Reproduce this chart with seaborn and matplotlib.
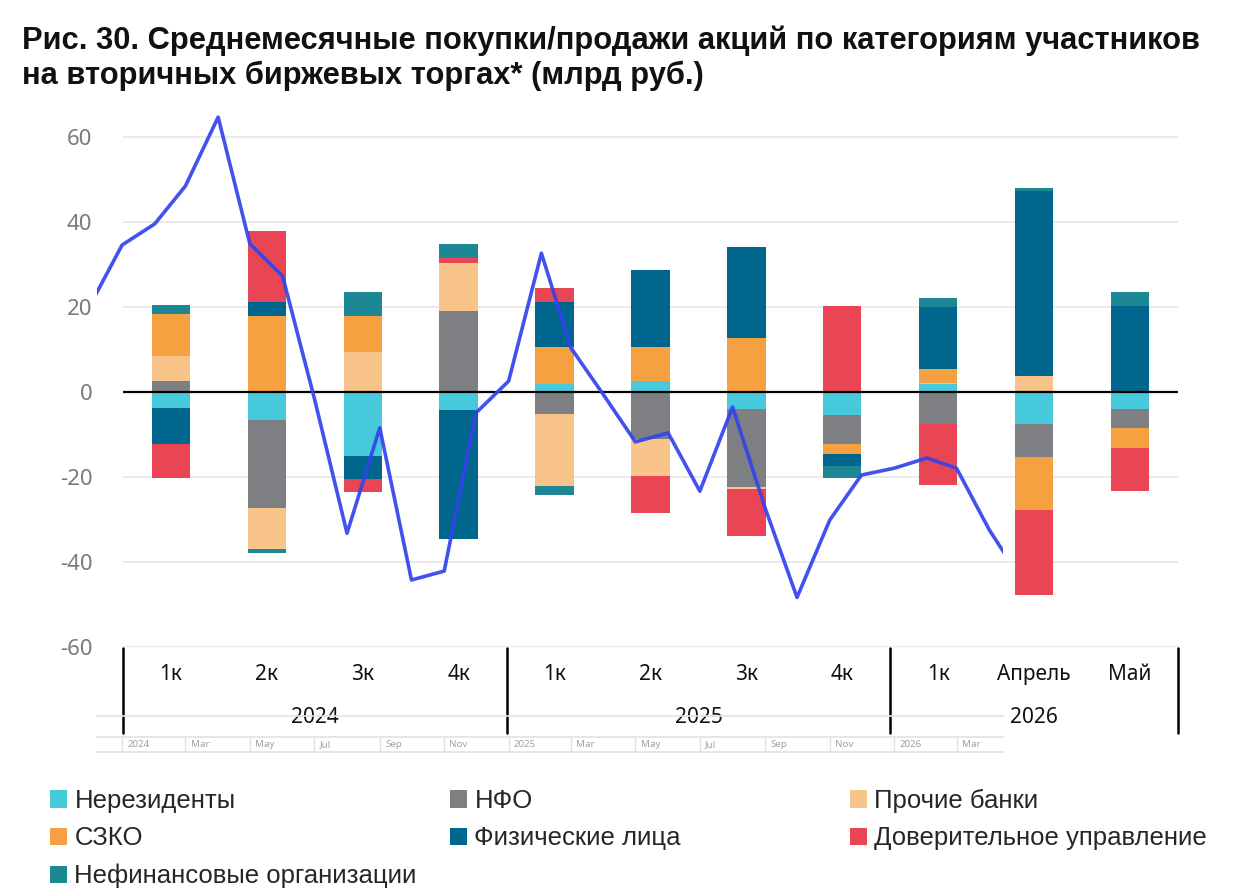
import numpy as np
import pandas as pd
import matplotlib
matplotlib.use("Agg")
import matplotlib.pyplot as plt
import matplotlib.transforms as mtransforms
from matplotlib.patches import Patch
import seaborn as sns

# ---------------- data ----------------
categories = ["1к", "2к", "3к", "4к", "1к", "2к", "3к", "4к", "1к", "Апрель", "Май"]
years = ["2024", "2025", "2026"]
year_sizes = [4, 4, 3]

series_names = ["Нерезиденты", "НФО", "Прочие банки", "СЗКО",
                "Физические лица", "Доверительное управление", "Нефинансовые организации"]
nonresidents = [-3.8, -6.6, -15.1, -4.3, 1.8, 2.5, -4.0, -5.6, 1.8, -7.7, -4.1]
nfo = [2.5, -20.7, 0.0, 19.0, -5.3, -11.2, -18.5, -6.7, -7.7, -7.7, -4.5]
other_banks = [5.9, -9.6, 9.3, 11.2, -16.9, -8.6, -0.3, 0.0, 0.3, 3.7, 0.0]
szko = [9.8, 17.8, 8.6, 0.0, 8.6, 7.9, 12.6, -2.4, 3.2, -12.4, -4.6]
individuals = [-8.5, 3.4, -5.4, -30.3, 10.6, 18.2, 21.5, -2.8, 14.6, 43.6, 20.2]
trust_mgmt = [-8.0, 16.7, -3.0, 1.3, 3.3, -8.8, -11.2, 20.2, -14.3, -20.0, -10.2]
nonfin = [2.2, -1.0, 5.6, 3.2, -2.1, 0.0, 0.0, -2.7, 2.1, 0.6, 3.2]

series_values = [nonresidents, nfo, other_banks, szko, individuals, trust_mgmt, nonfin]
series_colors = ["#47C9DC", "#7E7F83", "#F9C489", "#F5A142", "#00668E", "#E94554", "#1D8795"]

# monthly line (Dec 2023 .. May 2026)
line_months = pd.date_range("2023-12-01", "2026-05-01", freq="MS")
line_values = [20.0, 34.5, 39.5, 48.4, 64.6, 34.8, 27.2, -1.5, -33.3, -8.5, -44.3, -42.2, -5.0,
               2.5, 32.6, 10.3, -0.8, -11.8, -9.7, -23.4, -3.6, -27.5, -48.4, -30.2, -19.6,
               -18.0, -15.6, -18.0, -32.5, -44.0]
date_tick_labels = ["2024", "Mar", "May", "Jul", "Sep", "Nov",
                    "2025", "Mar", "May", "Jul", "Sep", "Nov", "2026", "Mar"]

# ---------------- style ----------------
sns.set_theme(style="white")
plt.rcParams["font.family"] = ["Noto Sans", "DejaVu Sans"]

W, H = 1248, 896
fig = plt.figure(figsize=(W / 100, H / 100), dpi=100)
fig.patch.set_facecolor("white")

def rect(x0, y0, x1, y1):
    return [x0 / W, 1 - y1 / H, (x1 - x0) / W, (y1 - y0) / H]

# ---------------- main bar axes ----------------
ax = fig.add_axes(rect(123, 102.7, 1178, 646.7))
ax.set_facecolor("none")
ax.set_xlim(-0.5, len(categories) - 0.5)
ax.set_ylim(-60, 68)
ax.set_yticks([-60, -40, -20, 0, 20, 40, 60])
ax.set_yticklabels([str(v) for v in [-60, -40, -20, 0, 20, 40, 60]])
ax.tick_params(axis="y", length=0, pad=22, labelsize=16, labelcolor="#7a7a7a")
ax.set_xticks([])
for s in ax.spines.values():
    s.set_visible(False)
ax.grid(axis="y", color="#e6e6e6", linewidth=1.2)
ax.set_axisbelow(True)

x = np.arange(len(categories))
pos_bottom = np.zeros(len(categories))
neg_bottom = np.zeros(len(categories))
for name, vals, col in zip(series_names, series_values, series_colors):
    v = np.array(vals, dtype=float)
    pos = np.where(v > 0, v, 0.0)
    neg = np.where(v < 0, v, 0.0)
    ax.bar(x, pos, bottom=pos_bottom, width=0.4, color=col, linewidth=0, zorder=2)
    ax.bar(x, neg, bottom=neg_bottom, width=0.4, color=col, linewidth=0, zorder=2)
    pos_bottom += pos
    neg_bottom += neg
ax.axhline(0, color="black", linewidth=1.6, zorder=3)

# category / year axis
trans = mtransforms.blended_transform_factory(ax.transData, ax.transAxes)
for i, c in enumerate(categories):
    ax.text(i, -0.052, c, transform=trans, ha="center", va="center",
            fontsize=15, color="#111111", clip_on=False)
start = -0.5
seps = [start]
for yname, n in zip(years, year_sizes):
    ax.text(start + n / 2, -0.131, yname, transform=trans, ha="center", va="center",
            fontsize=15, color="#111111", clip_on=False, zorder=6)
    start += n
    seps.append(start)
for sx in seps:
    ax.plot([sx, sx], [-0.003, -0.1586], transform=trans, color="black",
            linewidth=1.8, clip_on=False)

# ---------------- overlay line axes ----------------
ax2 = fig.add_axes(rect(97, 102.7, 1003, 716))
ax2.set_facecolor("none")
ax2.set_ylim(-76.3, 68)
x0 = pd.Timestamp("2024-01-01")
ax2.set_xlim(x0 - pd.Timedelta(days=23.7), x0 + pd.Timedelta(days=834))
sns.lineplot(x=line_months, y=line_values, ax=ax2, color="#3343EE", linewidth=2.6,
             alpha=0.92, zorder=5)
ax2.set_xlabel("")
ax2.set_ylabel("")
ax2.set_xticks([])
ax2.set_yticks([])
for k, s in ax2.spines.items():
    s.set_visible(k == "bottom")
ax2.spines["bottom"].set_color("#e3e3e3")
ax2.spines["bottom"].set_linewidth(1.2)

# tiny date strip
ax3 = fig.add_axes(rect(97, 737, 1003, 752))
ax3.set_facecolor("none")
ax3.set_xlim(ax2.get_xlim())
ax3.set_ylim(0, 1)
ax3.set_xticks([])
ax3.set_yticks([])
for k, s in ax3.spines.items():
    s.set_visible(k in ("top", "bottom"))
    s.set_color("#e3e3e3")
tick_dates = pd.date_range("2024-01-01", periods=len(date_tick_labels), freq="2MS")
for d, lab in zip(tick_dates, date_tick_labels):
    ax3.axvline(d, color="#e3e3e3", linewidth=1.0)
    ax3.text(d + pd.Timedelta(days=5), 0.5, lab, ha="left", va="center",
             fontsize=7, color="#a0a0a0")

# ---------------- title ----------------
fig.text(22 / W, 1 - 25 / H,
         "Рис. 30. Среднемесячные покупки/продажи акций по категориям участников\n"
         "на вторичных биржевых торгах* (млрд руб.)",
         ha="left", va="top", fontsize=22.2, fontweight="bold",
         family=["Liberation Sans", "DejaVu Sans"],
         linespacing=1.22, color="#111111")

# ---------------- legend ----------------
handles = {n: Patch(facecolor=c, edgecolor="none") for n, c in zip(series_names, series_colors)}
legend_cols = [
    (50, ["Нерезиденты", "СЗКО", "Нефинансовые организации"]),
    (450, ["НФО", "Физические лица"]),
    (850, ["Прочие банки", "Доверительное управление"]),
]
for px, names in legend_cols:
    fig.legend([handles[n] for n in names], names, loc="upper left",
               bbox_to_anchor=(px / W, 1 - 789 / H), frameon=False,
               borderpad=0, borderaxespad=0, handlelength=0.65, handleheight=0.65,
               handletextpad=0.3, labelspacing=0.52,
               prop={"family": ["Liberation Sans", "DejaVu Sans"], "size": 18.5})

fig.savefig("out.png", dpi=100, facecolor="white")
